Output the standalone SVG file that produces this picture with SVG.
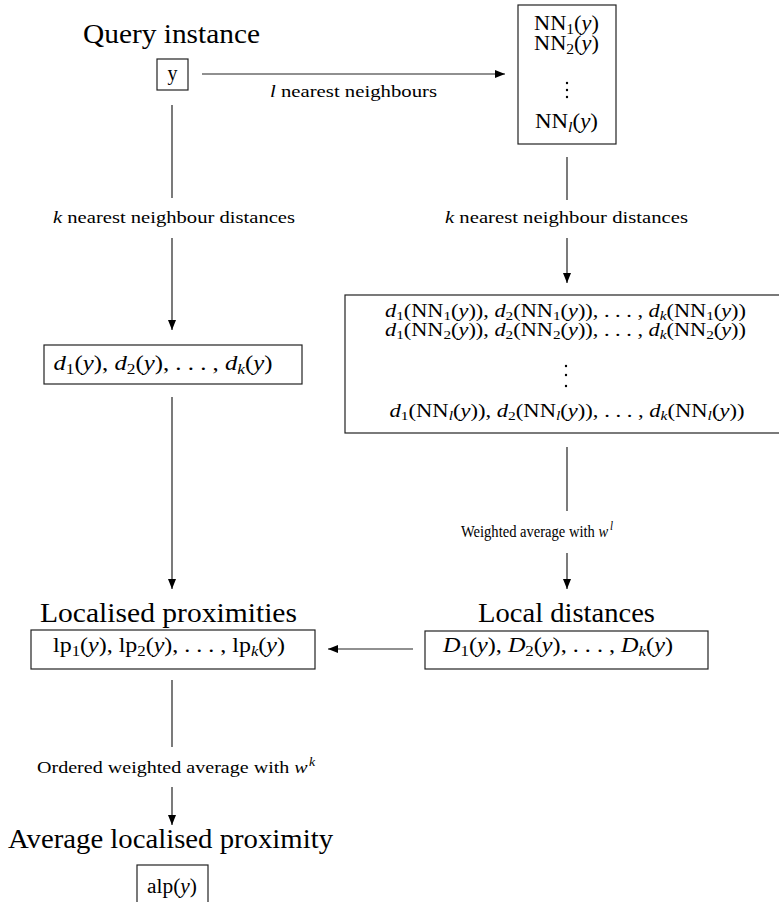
<svg xmlns="http://www.w3.org/2000/svg" width="779" height="902" viewBox="0 0 779 902">
<defs>
<style>
text{font-family:"Liberation Serif","Times New Roman",serif;fill:#000;}
.title{font-size:27px;text-anchor:middle;}
.lbl{font-size:17.5px;text-anchor:middle;}
.small{font-size:16px;text-anchor:middle;}
.box{font-size:20px;text-anchor:middle;}
.row{font-size:19px;text-anchor:middle;}
.i{font-style:italic;}
.node rect{fill:#fff;stroke:#222;stroke-width:1.2;}
.conn line{stroke:#222;stroke-width:1.2;}
</style>
<marker id="ah" viewBox="0 0 10 8" refX="10" refY="4" markerWidth="10" markerHeight="8" markerUnits="userSpaceOnUse" orient="auto">
<path d="M0,0 L10,4 L0,8 Z" fill="#000"/>
</marker>
</defs>
<rect width="779" height="902" fill="#fff"/>

<g id="query">
<text class="title" x="171.5" y="43" textLength="177" lengthAdjust="spacingAndGlyphs">Query instance</text>
<g class="node"><rect x="157" y="59" width="31" height="31"/></g>
<text class="box" x="172.5" y="80">y</text>
</g>

<g id="nn">
<g class="node"><rect x="518" y="5" width="98" height="139"/></g>
<text class="box" x="566.5" y="30" textLength="65" lengthAdjust="spacingAndGlyphs">NN<tspan font-size="14" dy="4">1</tspan><tspan dy="-4">(</tspan><tspan class="i">y</tspan>)</text>
<text class="box" x="566.5" y="50" textLength="65" lengthAdjust="spacingAndGlyphs">NN<tspan font-size="14" dy="4">2</tspan><tspan dy="-4">(</tspan><tspan class="i">y</tspan>)</text>
<circle cx="567" cy="83" r="1.2"/><circle cx="567" cy="90" r="1.2"/><circle cx="567" cy="97" r="1.2"/>
<text class="box" x="566.5" y="128" textLength="63" lengthAdjust="spacingAndGlyphs">NN<tspan class="i" font-size="14" dy="4">l</tspan><tspan dy="-4">(</tspan><tspan class="i">y</tspan>)</text>
</g>

<g id="dy">
<g class="node"><rect x="44" y="345" width="258" height="39"/></g>
<text class="box" x="163" y="370" textLength="219" lengthAdjust="spacingAndGlyphs"><tspan class="i">d</tspan><tspan font-size="14" dy="4">1</tspan><tspan dy="-4">(</tspan><tspan class="i">y</tspan>), <tspan class="i">d</tspan><tspan font-size="14" dy="4">2</tspan><tspan dy="-4">(</tspan><tspan class="i">y</tspan>), . . . , <tspan class="i">d</tspan><tspan class="i" font-size="14" dy="4">k</tspan><tspan dy="-4">(</tspan><tspan class="i">y</tspan>)</text>
</g>

<g id="dnn">
<g class="node"><rect x="345" y="295" width="440" height="138"/></g>
<text class="row" x="565.5" y="317" textLength="361" lengthAdjust="spacingAndGlyphs"><tspan class="i">d</tspan><tspan font-size="13" dy="3">1</tspan><tspan dy="-3">(NN</tspan><tspan font-size="13" dy="3">1</tspan><tspan dy="-3">(</tspan><tspan class="i">y</tspan>)), <tspan class="i">d</tspan><tspan font-size="13" dy="3">2</tspan><tspan dy="-3">(NN</tspan><tspan font-size="13" dy="3">1</tspan><tspan dy="-3">(</tspan><tspan class="i">y</tspan>)), . . . , <tspan class="i">d</tspan><tspan class="i" font-size="13" dy="3">k</tspan><tspan dy="-3">(NN</tspan><tspan font-size="13" dy="3">1</tspan><tspan dy="-3">(</tspan><tspan class="i">y</tspan>))</text>
<text class="row" x="565.5" y="336" textLength="361" lengthAdjust="spacingAndGlyphs"><tspan class="i">d</tspan><tspan font-size="13" dy="3">1</tspan><tspan dy="-3">(NN</tspan><tspan font-size="13" dy="3">2</tspan><tspan dy="-3">(</tspan><tspan class="i">y</tspan>)), <tspan class="i">d</tspan><tspan font-size="13" dy="3">2</tspan><tspan dy="-3">(NN</tspan><tspan font-size="13" dy="3">2</tspan><tspan dy="-3">(</tspan><tspan class="i">y</tspan>)), . . . , <tspan class="i">d</tspan><tspan class="i" font-size="13" dy="3">k</tspan><tspan dy="-3">(NN</tspan><tspan font-size="13" dy="3">2</tspan><tspan dy="-3">(</tspan><tspan class="i">y</tspan>))</text>
<circle cx="566" cy="366" r="1.2"/><circle cx="566" cy="375" r="1.2"/><circle cx="566" cy="386" r="1.2"/>
<text class="row" x="567" y="417" textLength="355" lengthAdjust="spacingAndGlyphs"><tspan class="i">d</tspan><tspan font-size="13" dy="3">1</tspan><tspan dy="-3">(NN</tspan><tspan class="i" font-size="13" dy="3">l</tspan><tspan dy="-3">(</tspan><tspan class="i">y</tspan>)), <tspan class="i">d</tspan><tspan font-size="13" dy="3">2</tspan><tspan dy="-3">(NN</tspan><tspan class="i" font-size="13" dy="3">l</tspan><tspan dy="-3">(</tspan><tspan class="i">y</tspan>)), . . . , <tspan class="i">d</tspan><tspan class="i" font-size="13" dy="3">k</tspan><tspan dy="-3">(NN</tspan><tspan class="i" font-size="13" dy="3">l</tspan><tspan dy="-3">(</tspan><tspan class="i">y</tspan>))</text>
</g>

<g id="lp">
<text class="title" x="168.5" y="622" textLength="257" lengthAdjust="spacingAndGlyphs">Localised proximities</text>
<g class="node"><rect x="31" y="630" width="284" height="39"/></g>
<text class="box" x="169" y="652" textLength="232" lengthAdjust="spacingAndGlyphs">lp<tspan font-size="14" dy="4">1</tspan><tspan dy="-4">(</tspan><tspan class="i">y</tspan>), lp<tspan font-size="14" dy="4">2</tspan><tspan dy="-4">(</tspan><tspan class="i">y</tspan>), . . . , lp<tspan class="i" font-size="14" dy="4">k</tspan><tspan dy="-4">(</tspan><tspan class="i">y</tspan>)</text>
</g>

<g id="ld">
<text class="title" x="566.5" y="622" textLength="177" lengthAdjust="spacingAndGlyphs">Local distances</text>
<g class="node"><rect x="425" y="631" width="283" height="38"/></g>
<text class="box" x="558" y="652" textLength="230" lengthAdjust="spacingAndGlyphs"><tspan class="i">D</tspan><tspan font-size="14" dy="4">1</tspan><tspan dy="-4">(</tspan><tspan class="i">y</tspan>), <tspan class="i">D</tspan><tspan font-size="14" dy="4">2</tspan><tspan dy="-4">(</tspan><tspan class="i">y</tspan>), . . . , <tspan class="i">D</tspan><tspan class="i" font-size="14" dy="4">k</tspan><tspan dy="-4">(</tspan><tspan class="i">y</tspan>)</text>
</g>

<g id="alp">
<text class="title" x="170.5" y="848" textLength="325" lengthAdjust="spacingAndGlyphs">Average localised proximity</text>
<g class="node"><rect x="137" y="865" width="71" height="50"/></g>
<text class="box" x="172" y="893" textLength="50" lengthAdjust="spacingAndGlyphs">alp(<tspan class="i">y</tspan>)</text>
</g>

<g id="connectors" class="conn">
<line x1="202" y1="74" x2="505" y2="74" marker-end="url(#ah)"/>
<text class="lbl" x="353.5" y="97" textLength="167" lengthAdjust="spacingAndGlyphs"><tspan class="i">l</tspan> nearest neighbours</text>
<line x1="172" y1="105" x2="172" y2="198"/>
<text class="lbl" x="174" y="223" textLength="242" lengthAdjust="spacingAndGlyphs"><tspan class="i">k</tspan> nearest neighbour distances</text>
<line x1="172" y1="238" x2="172" y2="330" marker-end="url(#ah)"/>
<line x1="172" y1="397" x2="172" y2="589" marker-end="url(#ah)"/>
<line x1="567" y1="157" x2="567" y2="200"/>
<text class="lbl" x="566.5" y="223" textLength="243" lengthAdjust="spacingAndGlyphs"><tspan class="i">k</tspan> nearest neighbour distances</text>
<line x1="567" y1="238" x2="567" y2="283" marker-end="url(#ah)"/>
<line x1="567" y1="447" x2="567" y2="511"/>
<text class="small" x="537" y="537" textLength="152" lengthAdjust="spacingAndGlyphs">Weighted average with <tspan class="i">w</tspan><tspan class="i" font-size="12" dx="2" dy="-7">l</tspan></text>
<line x1="567" y1="553" x2="567" y2="589" marker-end="url(#ah)"/>
<line x1="413" y1="649" x2="328" y2="649" marker-end="url(#ah)"/>
<line x1="172" y1="680" x2="172" y2="747"/>
<text class="lbl" x="176" y="773" textLength="278" lengthAdjust="spacingAndGlyphs">Ordered weighted average with <tspan class="i">w</tspan><tspan class="i" font-size="12" dx="1" dy="-7">k</tspan></text>
<line x1="172" y1="787" x2="172" y2="825" marker-end="url(#ah)"/>
</g>
</svg>
